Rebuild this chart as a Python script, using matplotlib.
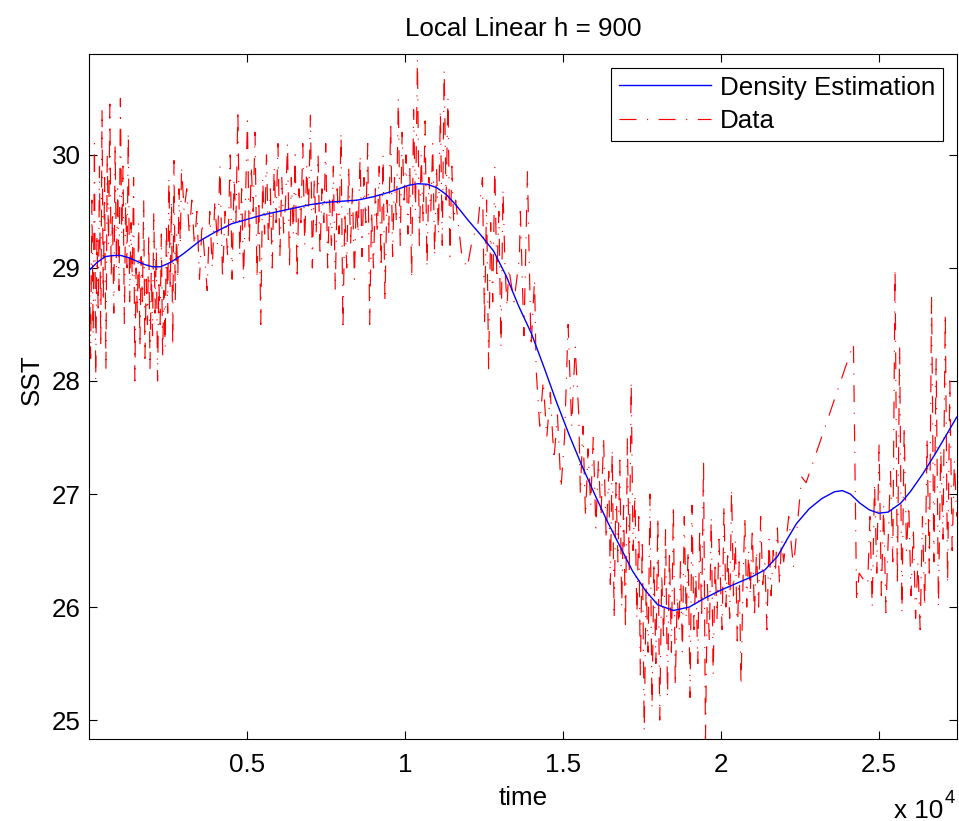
import numpy as np
import matplotlib
matplotlib.use('Agg')
import matplotlib.pyplot as plt

# smoothed estimate (local linear, h = 900)
est_t = [0, 250, 500, 750, 1000, 1250, 1500, 1750, 2000, 2250, 2500, 2750,
         3000, 3500, 4000, 4500, 5000, 5500, 6000, 6500, 7000, 7500, 8000,
         8500, 9000, 9500, 9800, 10100, 10400, 10700, 11000, 11300, 11600,
         12000, 12400, 12800, 13200, 13600, 14000, 14400, 14800, 15200,
         15600, 16000, 16400, 16800, 17200, 17600, 18000, 18500, 19000,
         19500, 20000, 20500, 21000, 21400, 21800, 22100, 22400, 22800,
         23200, 23600, 23850, 24100, 24400, 24700, 25000, 25300, 25700,
         26000, 26400, 26800, 27200, 27470]
est_sst = [28.98, 29.05, 29.10, 29.11, 29.11, 29.09, 29.06, 29.03, 29.01,
           29.01, 29.04, 29.08, 29.13, 29.24, 29.32, 29.39, 29.43, 29.47,
           29.50, 29.53, 29.56, 29.58, 29.59, 29.60, 29.63, 29.67, 29.70,
           29.73, 29.745, 29.74, 29.71, 29.65, 29.56, 29.42, 29.29, 29.15,
           28.93, 28.66, 28.42, 28.12, 27.81, 27.52, 27.25, 27.00, 26.76,
           26.54, 26.32, 26.15, 26.02, 25.97, 26.00, 26.08, 26.15, 26.21,
           26.27, 26.33, 26.45, 26.60, 26.74, 26.87, 26.96, 27.02, 27.03,
           27.00, 26.92, 26.86, 26.83, 26.84, 26.92, 27.02, 27.18, 27.36,
           27.55, 27.68]

# raw SST record, read in short runs: (start, end) of each run + its values
run01_span = (0, 400)
run01_sst = [29.0, 28.2, 29.6, 28.4, 30.1, 28.0, 29.3, 28.6, 29.9, 28.3, 30.4]
run02_span = (440, 1400)
run02_sst = [28.7, 29.8, 28.1, 30.0, 29.2, 30.45, 28.9, 29.5, 28.6, 30.1,
             29.0, 29.7, 28.8, 30.5, 29.3, 29.9, 28.5, 29.6, 29.0, 30.2,
             28.7, 29.4, 28.9, 29.8]
run03_span = (1440, 2360)
run03_sst = [28.0, 29.0, 28.6, 29.4, 28.3, 29.1, 28.7, 29.6, 28.2, 28.9,
             28.5, 29.3, 28.1, 29.0, 28.4, 29.5, 28.6, 29.2, 28.0, 28.9,
             28.5, 29.3, 28.2, 28.8]
run04_span = (2400, 2880)
run04_sst = [28.3, 29.4, 28.6, 29.8, 28.8, 29.6, 28.3, 29.95, 28.7, 29.3,
             28.9, 29.7, 29.2]
run05_span = (2920, 4380)
run05_sst = [29.9, 29.5, 29.7, 29.3, 29.6, 29.2, 29.5, 28.9, 29.4, 29.1,
             28.8, 29.5, 29.0, 29.6, 29.2, 29.9, 28.9, 29.5, 29.1]
run06_span = (4400, 11600)
run06_sst = [29.3, 30.0, 28.9, 29.8, 29.4, 30.4, 29.1, 29.7, 28.9, 29.6,
             30.3, 29.2, 29.9, 29.5, 30.2, 28.9, 29.6, 28.5, 29.8, 29.3,
             30.0, 29.2, 29.7, 29.0, 29.9, 29.4, 30.1, 29.1, 29.8, 29.3,
             29.6, 30.1, 29.0, 29.8, 29.3, 30.0, 28.9, 29.7, 29.4, 30.1,
             29.2, 29.9, 29.5, 30.35, 29.0, 29.8, 29.3, 30.0, 29.1, 29.7,
             29.4, 30.1, 29.0, 29.6, 29.2, 29.9, 28.8, 29.7, 29.3, 30.2,
             28.45, 29.5, 29.0, 29.9, 29.2, 29.7, 28.9, 29.6, 29.3, 30.0,
             29.1, 29.8, 29.4, 30.1, 28.5, 29.5, 29.0, 29.7, 29.3, 29.9,
             29.0, 30.0, 28.7, 29.6, 29.3, 30.3, 29.1, 29.8, 29.4, 30.5,
             29.2, 30.2, 29.6, 30.0, 29.3, 29.9, 28.9, 30.4, 29.5, 30.85,
             29.2, 30.0, 29.4, 30.3, 29.0, 29.8, 29.5, 30.1, 29.1, 29.9,
             29.3, 30.4, 29.2, 30.75, 29.6, 30.5, 29.1, 29.9, 29.4, 29.6]
run07_span = (11800, 12300)
run07_sst = [29.1, 29.0, 29.26, 29.37]
run08_span = (12450, 13230)
run08_sst = [29.8, 28.5, 29.6, 28.1, 29.4, 28.7, 29.9, 28.9, 29.5, 28.3,
             29.7, 29.0, 28.65]
run09_span = (13280, 13620)
run09_sst = [29.0, 28.7, 29.1]
run10_span = (13650, 14100)
run10_sst = [29.5, 28.4, 29.85, 28.3, 28.9]
run11_span = (14150, 15500)
run11_sst = [28.1, 27.6, 28.0, 27.5, 27.9, 27.3, 27.7, 27.05, 27.5, 28.5,
             27.6, 28.3, 27.7]
run12_span = (15550, 16450)
run12_sst = [27.0, 27.6, 26.8, 27.4, 26.9, 27.5, 26.7, 27.3, 26.8, 27.5,
             26.6, 27.2]
run13_span = (16500, 17400)
run13_sst = [26.2, 27.4, 25.9, 27.1, 26.4, 27.3, 26.0, 26.9, 25.8, 27.5,
             26.3, 28.0, 26.5, 27.0, 25.9, 26.8]
run14_span = (17450, 18680)
run14_sst = [25.4, 26.6, 24.9, 26.2, 25.6, 27.0, 25.1, 26.4, 25.5, 26.8,
             25.0, 26.3, 25.7, 26.7, 25.2, 26.5, 25.6, 26.9, 25.3, 26.1, 25.8]
run15_span = (18720, 19940)
run15_sst = [26.4, 25.6, 26.8, 25.9, 26.5, 25.2, 26.9, 25.8, 26.3, 25.5,
             26.7, 25.9, 27.3, 24.83, 26.2, 25.7, 26.8, 25.4, 26.4, 25.9, 26.6]
run16_span = (19980, 20880)
run16_sst = [26.3, 25.8, 26.9, 26.0, 26.5, 25.9, 27.05, 26.1, 26.6, 25.7,
             26.4, 25.3, 26.2, 26.8, 26.0, 26.5]
run17_span = (20930, 21990)
run17_sst = [26.1, 26.7, 25.9, 26.5, 26.0, 26.8, 26.2, 26.4, 25.8, 26.6,
             26.1, 26.5, 26.3, 26.7, 26.2, 26.6, 26.4]

# sparse stretch with long gaps between readings
gap_t = [22150, 22300, 22560, 22700, 24200, 24300, 24380, 24500, 24600]
gap_sst = [26.8, 26.35, 27.15, 27.1, 28.33, 26.05, 26.3, 26.25, 26.2]

run18_span = (24650, 27470)
run18_sst = [26.2, 26.8, 26.0, 27.1, 26.3, 27.45, 26.1, 26.9, 25.95, 26.6,
             27.2, 26.4, 29.0, 26.2, 28.3, 25.95, 27.6, 26.5, 26.9, 26.1,
             26.7, 25.9, 26.4, 25.8, 26.8, 26.0, 27.5, 26.3, 28.75, 26.4,
             28.2, 26.0, 27.4, 26.6, 28.6, 26.2, 28.0, 26.5, 27.3, 26.8]


def run(span, vals):
    return np.linspace(span[0], span[1], len(vals)), np.array(vals)


parts = [run(run01_span, run01_sst), run(run02_span, run02_sst),
         run(run03_span, run03_sst), run(run04_span, run04_sst),
         run(run05_span, run05_sst), run(run06_span, run06_sst),
         run(run07_span, run07_sst), run(run08_span, run08_sst),
         run(run09_span, run09_sst), run(run10_span, run10_sst),
         run(run11_span, run11_sst), run(run12_span, run12_sst),
         run(run13_span, run13_sst), run(run14_span, run14_sst),
         run(run15_span, run15_sst), run(run16_span, run16_sst),
         run(run17_span, run17_sst),
         (np.array(gap_t), np.array(gap_sst)),
         run(run18_span, run18_sst)]
time = np.concatenate([p[0] for p in parts])
sst = np.concatenate([p[1] for p in parts])

plt.rcParams['font.family'] = ['Liberation Sans', 'DejaVu Sans']
plt.rcParams['lines.scale_dashes'] = False
fs = 18.7

fig = plt.figure(figsize=(9.59, 8.21), dpi=100)
ax = fig.add_axes([0.0932, 0.0995, 0.9044, 0.8344])

l_est, = ax.plot(est_t, est_sst, color='#0000ff', lw=1.0, zorder=3)
l_dat, = ax.plot(time, sst, color='#ff0000', lw=0.85,
                 dashes=(12.2, 7.6, 0.8, 7.6), zorder=2)

ax.set_xlim(0, 27470)
ax.set_ylim(24.83, 30.89)
ax.set_xticks([5000, 10000, 15000, 20000, 25000])
ax.set_xticklabels(['0.5', '1', '1.5', '2', '2.5'])
ax.set_yticks([25, 26, 27, 28, 29, 30])
ax.tick_params(direction='in', length=5.8, width=0.8, top=True, right=True,
               labelsize=fs)
ax.tick_params(axis='x', pad=10)
ax.tick_params(axis='y', pad=6)
for s in ax.spines.values():
    s.set_linewidth(0.8)

ax.set_title('Local Linear h = 900', fontsize=fs, pad=13)
ax.set_xlabel('time', fontsize=fs, labelpad=6)
ax.set_ylabel('SST', fontsize=fs)
ax.yaxis.set_label_coords(-0.052, 0.525)

leg = ax.legend([l_est, l_dat], ['Density Estimation', 'Data'],
                loc='upper right', fontsize=fs, fancybox=False,
                edgecolor='black', framealpha=1, borderaxespad=0.52,
                handlelength=3.55, handletextpad=0.35, borderpad=0.3,
                labelspacing=0.37)
leg.get_frame().set_linewidth(0.8)

ax.text(0.985, -0.087, 'x 10', transform=ax.transAxes, ha='right',
        va='top', fontsize=fs)
ax.text(0.986, -0.074, '4', transform=ax.transAxes, ha='left',
        va='top', fontsize=fs * 0.72)

fig.savefig('out.png', dpi=100)
